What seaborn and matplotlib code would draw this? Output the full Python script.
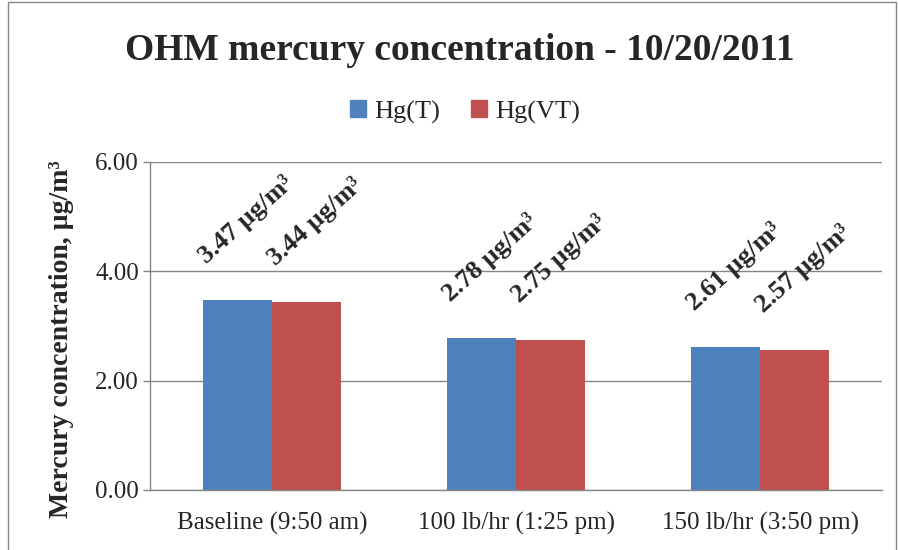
import pandas as pd
import matplotlib.pyplot as plt
import matplotlib.patches as mpatches
import seaborn as sns

# data
categories = ["Baseline (9:50 am)", "100 lb/hr (1:25 pm)", "150 lb/hr (3:50 pm)"]
series = ["Hg(T)", "Hg(VT)"]
hg_t = [3.47, 2.78, 2.61]
hg_vt = [3.44, 2.75, 2.57]
colors = ["#4F81BD", "#C0504D"]
yticks = [0, 2, 4, 6]

df = pd.DataFrame({
    "cat": categories * 2,
    "series": [series[0]] * 3 + [series[1]] * 3,
    "value": hg_t + hg_vt,
})

sns.set_theme(style="white")
plt.rcParams["font.family"] = ["Liberation Serif", "DejaVu Serif"]

fig = plt.figure(figsize=(8.98, 5.5), dpi=100)
ax = fig.add_axes([150 / 898, 1 - 490 / 550, 732 / 898, 328 / 550])

sns.barplot(data=df, x="cat", y="value", hue="series", order=categories,
            hue_order=series, palette=colors, width=0.566, saturation=1,
            linewidth=0, ax=ax, legend=False)

ax.set_ylim(0, 6)
ax.set_xlim(-0.5, 2.5)
ax.set_yticks(yticks)
ax.set_yticklabels([f"{v:.2f}" for v in yticks], fontsize=18)
ax.yaxis.grid(True, color="#868686", linewidth=1)
ax.set_axisbelow(True)
for s in ["top", "right"]:
    ax.spines[s].set_visible(False)
for s in ["left", "bottom"]:
    ax.spines[s].set_color("#868686")
    ax.spines[s].set_linewidth(1)

ax.set_xticks([0, 1, 2])
ax.set_xticklabels(categories, fontsize=18)
ax.set_xticks([-0.5, 0.5, 1.5, 2.5], minor=True)
ax.tick_params(axis="x", which="major", length=0, pad=16)
ax.tick_params(axis="x", which="minor", length=6, color="#868686", width=1, direction="out")
ax.tick_params(axis="y", length=5, color="#868686", width=1, direction="out", left=True, pad=3)
ax.set_xlabel("")
ax.set_ylabel("Mercury concentration, µg/m³", fontsize=20, fontweight="bold")
ax.yaxis.set_label_coords(-0.104, 0.46)

# value labels
for cont in ax.containers:
    for bar in cont:
        h = bar.get_height()
        ax.annotate(f"{h:.2f} µg/m³", (bar.get_x() + bar.get_width() / 2, h),
                    xytext=(6, 58), textcoords="offset points", rotation=42,
                    ha="center", va="center", fontsize=19, fontweight="bold")

fig.suptitle("OHM mercury concentration - 10/20/2011", x=0.512, y=0.94,
             fontsize=27, fontweight="bold")

handles = [mpatches.Patch(color=c, label=s) for c, s in zip(colors, series)]
fig.legend(handles=handles, loc="center", bbox_to_anchor=(0.518, 1 - 112 / 550),
           ncol=2, frameon=False, fontsize=19, handlelength=0.6, handleheight=0.6,
           handletextpad=0.3, columnspacing=1.2)

fig.patches.append(mpatches.Rectangle((8 / 898, -0.01), 888 / 898, 1 - 1.5 / 550 + 0.01,
                                      transform=fig.transFigure, fill=False,
                                      edgecolor="#868686", linewidth=1))

plt.savefig("out.png", dpi=100)
